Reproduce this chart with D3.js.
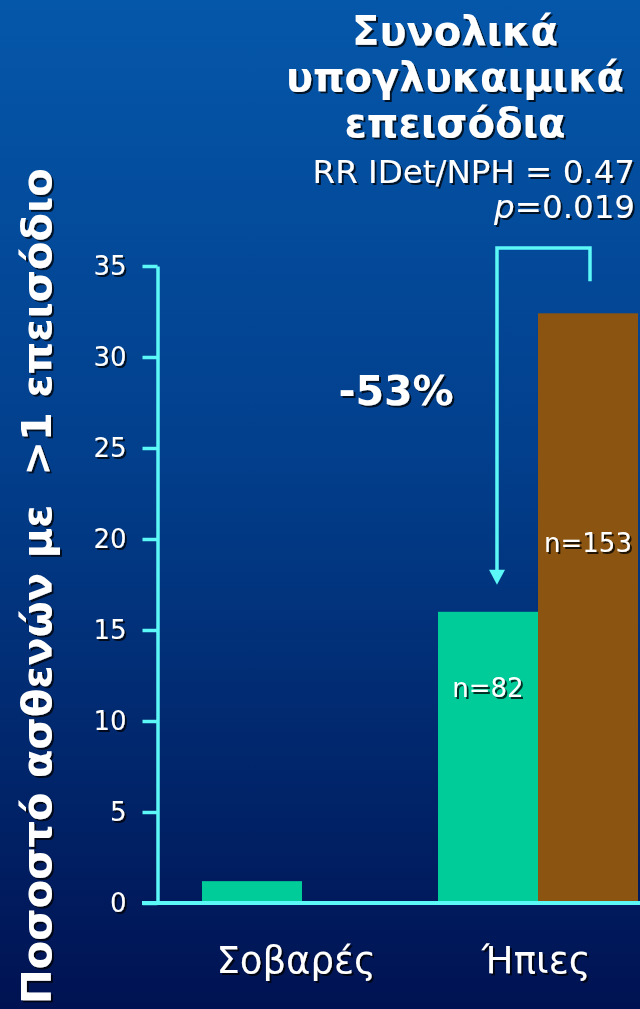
<!DOCTYPE html>
<html>
<head>
<meta charset="utf-8">
<script src="https://cdn.jsdelivr.net/npm/d3@7"></script>
<style>
  html, body { margin: 0; padding: 0; background: #001558; }
  svg { display: block; }
  text { font-family: "DejaVu Sans", Verdana, sans-serif; fill: #fff; }
</style>
</head>
<body>
<script>
// Percentage of patients with at least one hypoglycaemic episode
const categories = ["Σοβαρές", "Ήπιες"];
const series = ["IDet", "NPH"];
const idetValues = [1.2, 16.0];
const nphValues = [0, 32.4];
const sampleLabels = [null, "n=82", null, "n=153"]; // per bar: cat0-IDet, cat1-IDet, cat0-NPH, cat1-NPH
const yTicks = [0, 5, 10, 15, 20, 25, 30, 35];
const titleLines = ["Συνολικά", "υπογλυκαιμικά", "επεισόδια"];
const statLine = "RR IDet/NPH = 0.47";
const pValue = "0.019";
const reductionLabel = "-53%";
const yAxisTitle = "Ποσοστό ασθενών με  >1 επεισόδιο";

const W = 640, H = 1009;
const colors = { IDet: "#00cc99", NPH: "#8b5511" };
const axisColor = "#5cf7f7";

const svg = d3.select("body").append("svg").attr("width", W).attr("height", H);
const defs = svg.append("defs");

const grad = defs.append("linearGradient").attr("id", "bg")
  .attr("x1", 0).attr("y1", 0).attr("x2", 0).attr("y2", 1);
grad.append("stop").attr("offset", "0%").attr("stop-color", "#0557aa");
grad.append("stop").attr("offset", "45%").attr("stop-color", "#023f8c");
grad.append("stop").attr("offset", "100%").attr("stop-color", "#001252");
svg.append("rect").attr("width", W).attr("height", H).attr("fill", "url(#bg)");

const shadow = defs.append("filter").attr("id", "shadow")
  .attr("x", "-10%").attr("y", "-10%").attr("width", "130%").attr("height", "130%");
shadow.append("feDropShadow").attr("dx", 2).attr("dy", 2).attr("stdDeviation", 0.6)
  .attr("flood-color", "#000").attr("flood-opacity", 0.75);

// Scales
const y = d3.scaleLinear().domain([0, 35]).range([903, 266]);
const x0 = d3.scaleBand().domain(categories).range([202, 638]).paddingInner(0.1525).paddingOuter(0);
const x1 = d3.scaleBand().domain(series).range([0, x0.bandwidth()]);

const rows = categories.map((c, i) => ({ cat: c, IDet: idetValues[i], NPH: nphValues[i] }));
const bars = [];
series.forEach((s, si) => rows.forEach((r, ci) => bars.push({
  cat: r.cat, s, v: r[s], label: sampleLabels[si * categories.length + ci]
})));

// Bars
svg.append("g").selectAll("rect").data(bars.filter(d => d.v > 0)).join("rect")
  .attr("x", d => x0(d.cat) + x1(d.s))
  .attr("y", d => y(d.v))
  .attr("width", x1.bandwidth())
  .attr("height", d => y(0) - y(d.v))
  .attr("fill", d => colors[d.s]);

// Y axis
const yAxis = svg.append("g").attr("transform", "translate(157.5,0)")
  .call(d3.axisLeft(y).tickValues(yTicks).tickSize(15).tickSizeOuter(0).tickPadding(16));
yAxis.select(".domain").attr("stroke", axisColor).attr("stroke-width", 3.5);
yAxis.selectAll(".tick line").attr("stroke", axisColor).attr("stroke-width", 3.5);
yAxis.selectAll(".tick text").attr("fill", "#fff").attr("font-size", 26)
  .attr("font-family", "DejaVu Sans, Verdana, sans-serif").attr("filter", "url(#shadow)");

// X axis baseline
svg.append("line").attr("x1", 142).attr("x2", W).attr("y1", y(0)).attr("y2", y(0))
  .attr("stroke", axisColor).attr("stroke-width", 4);

// Category labels
svg.append("g").selectAll("text").data(categories).join("text")
  .attr("x", (d, i) => x0(d) + x0.bandwidth() / 2 - (i === 0 ? 6 : 2))
  .attr("y", 973)
  .attr("text-anchor", "middle")
  .attr("font-size", 37)
  .attr("filter", "url(#shadow)")
  .text(d => d);

// Sample size labels inside bars
svg.append("g").selectAll("text").data(bars.filter(d => d.label)).join("text")
  .attr("x", d => x0(d.cat) + x1(d.s) + x1.bandwidth() / 2)
  .attr("y", (d, i) => d.s === "IDet" ? y(d.v) + 85 : y(d.v) + 239)
  .attr("text-anchor", "middle")
  .attr("font-size", 26)
  .attr("filter", "url(#shadow)")
  .text(d => d.label);

// Reduction bracket arrow between the two Ήπιες bars
const cat = categories[1];
const leftX = x0(cat) + x1("IDet") + x1.bandwidth() / 2 + 9;
const rightX = x0(cat) + x1("NPH") + x1.bandwidth() / 2 + 2;
const topY = 248;
const tipY = y(idetValues[1]) - 27;
const endY = y(nphValues[1]) - 32;
svg.append("path")
  .attr("d", d3.line()([[rightX, endY], [rightX, topY], [leftX, topY], [leftX, tipY - 14]]))
  .attr("fill", "none").attr("stroke", axisColor).attr("stroke-width", 3.5);
svg.append("path")
  .attr("d", d3.line()([[leftX - 8, tipY - 15], [leftX + 8, tipY - 15], [leftX, tipY]]) + "Z")
  .attr("fill", axisColor);

svg.append("text").attr("x", 396).attr("y", 405).attr("text-anchor", "middle")
  .attr("font-size", 41).attr("font-weight", "bold").attr("filter", "url(#shadow)")
  .text(reductionLabel);

// Title block
const title = svg.append("g").attr("filter", "url(#shadow)");
title.selectAll("text").data(titleLines).join("text")
  .attr("x", 455).attr("y", (d, i) => 45 + i * 46)
  .attr("text-anchor", "middle").attr("font-size", 40).attr("font-weight", "bold")
  .text(d => d);
title.append("text").attr("x", 635).attr("y", 183).attr("text-anchor", "end")
  .attr("font-size", 32.5).text(statLine);
const pt = title.append("text").attr("x", 635).attr("y", 218).attr("text-anchor", "end")
  .attr("font-size", 32.5);
pt.append("tspan").attr("font-style", "italic").text("p");
pt.append("tspan").text("=" + pValue);

// Rotated y-axis title, sized to span the left edge
const yt = svg.append("g").attr("filter", "url(#shadow)")
  .append("text")
  .attr("transform", "translate(51,1004) rotate(-90)")
  .attr("font-weight", "bold")
  .attr("font-size", 38)
  .attr("xml:space", "preserve")
  .style("white-space", "pre")
  .text(yAxisTitle);
const len = yt.node().getComputedTextLength();
yt.attr("font-size", 38 * 836 / len);
</script>
</body>
</html>
